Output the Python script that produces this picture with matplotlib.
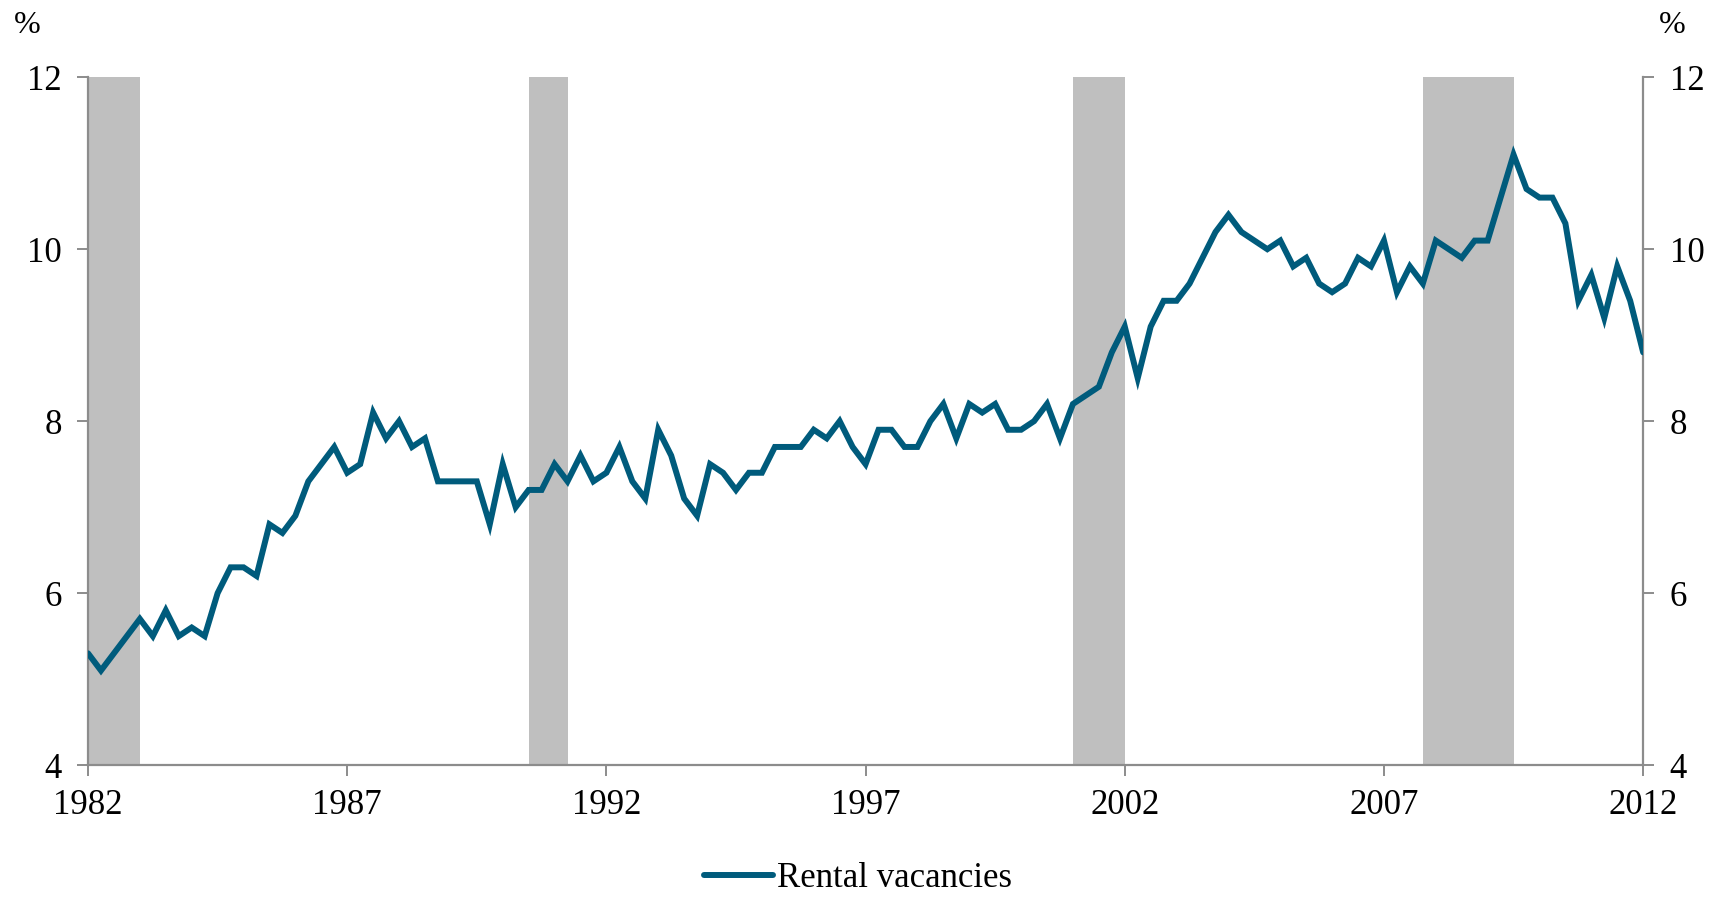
import numpy as np
import matplotlib
matplotlib.use("Agg")
import matplotlib.pyplot as plt

plt.rcParams['font.family'] = ['Liberation Serif', 'DejaVu Serif']

# quarterly rental vacancy rate, 1982Q1 .. 2012Q1
start_year = 1982
vacancies = [
    5.3, 5.1, 5.3, 5.5,   # 1982
    5.7, 5.5, 5.8, 5.5,   # 1983
    5.6, 5.5, 6.0, 6.3,   # 1984
    6.3, 6.2, 6.8, 6.7,   # 1985
    6.9, 7.3, 7.5, 7.7,   # 1986
    7.4, 7.5, 8.1, 7.8,   # 1987
    8.0, 7.7, 7.8, 7.3,   # 1988
    7.3, 7.3, 7.3, 6.8,   # 1989
    7.5, 7.0, 7.2, 7.2,   # 1990
    7.5, 7.3, 7.6, 7.3,   # 1991
    7.4, 7.7, 7.3, 7.1,   # 1992
    7.9, 7.6, 7.1, 6.9,   # 1993
    7.5, 7.4, 7.2, 7.4,   # 1994
    7.4, 7.7, 7.7, 7.7,   # 1995
    7.9, 7.8, 8.0, 7.7,   # 1996
    7.5, 7.9, 7.9, 7.7,   # 1997
    7.7, 8.0, 8.2, 7.8,   # 1998
    8.2, 8.1, 8.2, 7.9,   # 1999
    7.9, 8.0, 8.2, 7.8,   # 2000
    8.2, 8.3, 8.4, 8.8,   # 2001
    9.1, 8.5, 9.1, 9.4,   # 2002
    9.4, 9.6, 9.9, 10.2,  # 2003
    10.4, 10.2, 10.1, 10.0,  # 2004
    10.1, 9.8, 9.9, 9.6,  # 2005
    9.5, 9.6, 9.9, 9.8,   # 2006
    10.1, 9.5, 9.8, 9.6,  # 2007
    10.1, 10.0, 9.9, 10.1,  # 2008
    10.1, 10.6, 11.1, 10.7,  # 2009
    10.6, 10.6, 10.3, 9.4,  # 2010
    9.7, 9.2, 9.8, 9.4,   # 2011
    8.8,                  # 2012
]

# recession periods (shaded)
recession_start = [1982.0, 1990.5, 2001.0, 2007.75]
recession_end = [1983.0, 1991.25, 2002.0, 2009.5]

year_ticks = [1982, 1987, 1992, 1997, 2002, 2007, 2012]
y_ticks = [4, 6, 8, 10, 12]

line_color = '#005B7C'
axis_color = '#8C8C8C'

x = start_year + np.arange(len(vacancies)) / 4.0

fig = plt.figure(figsize=(17.26, 8.98), dpi=100)
ax = fig.add_axes([0.051, 0.148, 0.901, 0.766])

for s, e in zip(recession_start, recession_end):
    ax.axvspan(s, e, color='#BFBFBF', lw=0, zorder=1)

ax.plot(x, vacancies, color=line_color, lw=4.3, solid_joinstyle='miter',
        solid_capstyle='round', zorder=3, label='Rental vacancies')

ax.set_xlim(1982, 2012)
ax.set_ylim(4, 12)
ax.set_xticks(year_ticks)
ax.set_yticks(y_ticks)

ax.spines['top'].set_visible(False)
for side in ['left', 'right', 'bottom']:
    ax.spines[side].set_color(axis_color)
    ax.spines[side].set_linewidth(1.6)
    ax.spines[side].set_zorder(2)

ax.tick_params(axis='y', which='both', left=True, right=True,
               labelleft=True, labelright=True, direction='out',
               length=8, width=1.4, color=axis_color, labelsize=25, pad=11)
ax.tick_params(axis='x', direction='out', length=8, width=1.4,
               color=axis_color, labelsize=25, pad=9)

fig.text(0.016, 0.972, '%', fontsize=23, ha='center', va='center')
fig.text(0.969, 0.972, '%', fontsize=23, ha='center', va='center')

fig.legend(loc='center', bbox_to_anchor=(0.497, 0.022), frameon=False,
           fontsize=25, handlelength=2.0, handletextpad=0.1)

fig.savefig('out.png', dpi=100)
